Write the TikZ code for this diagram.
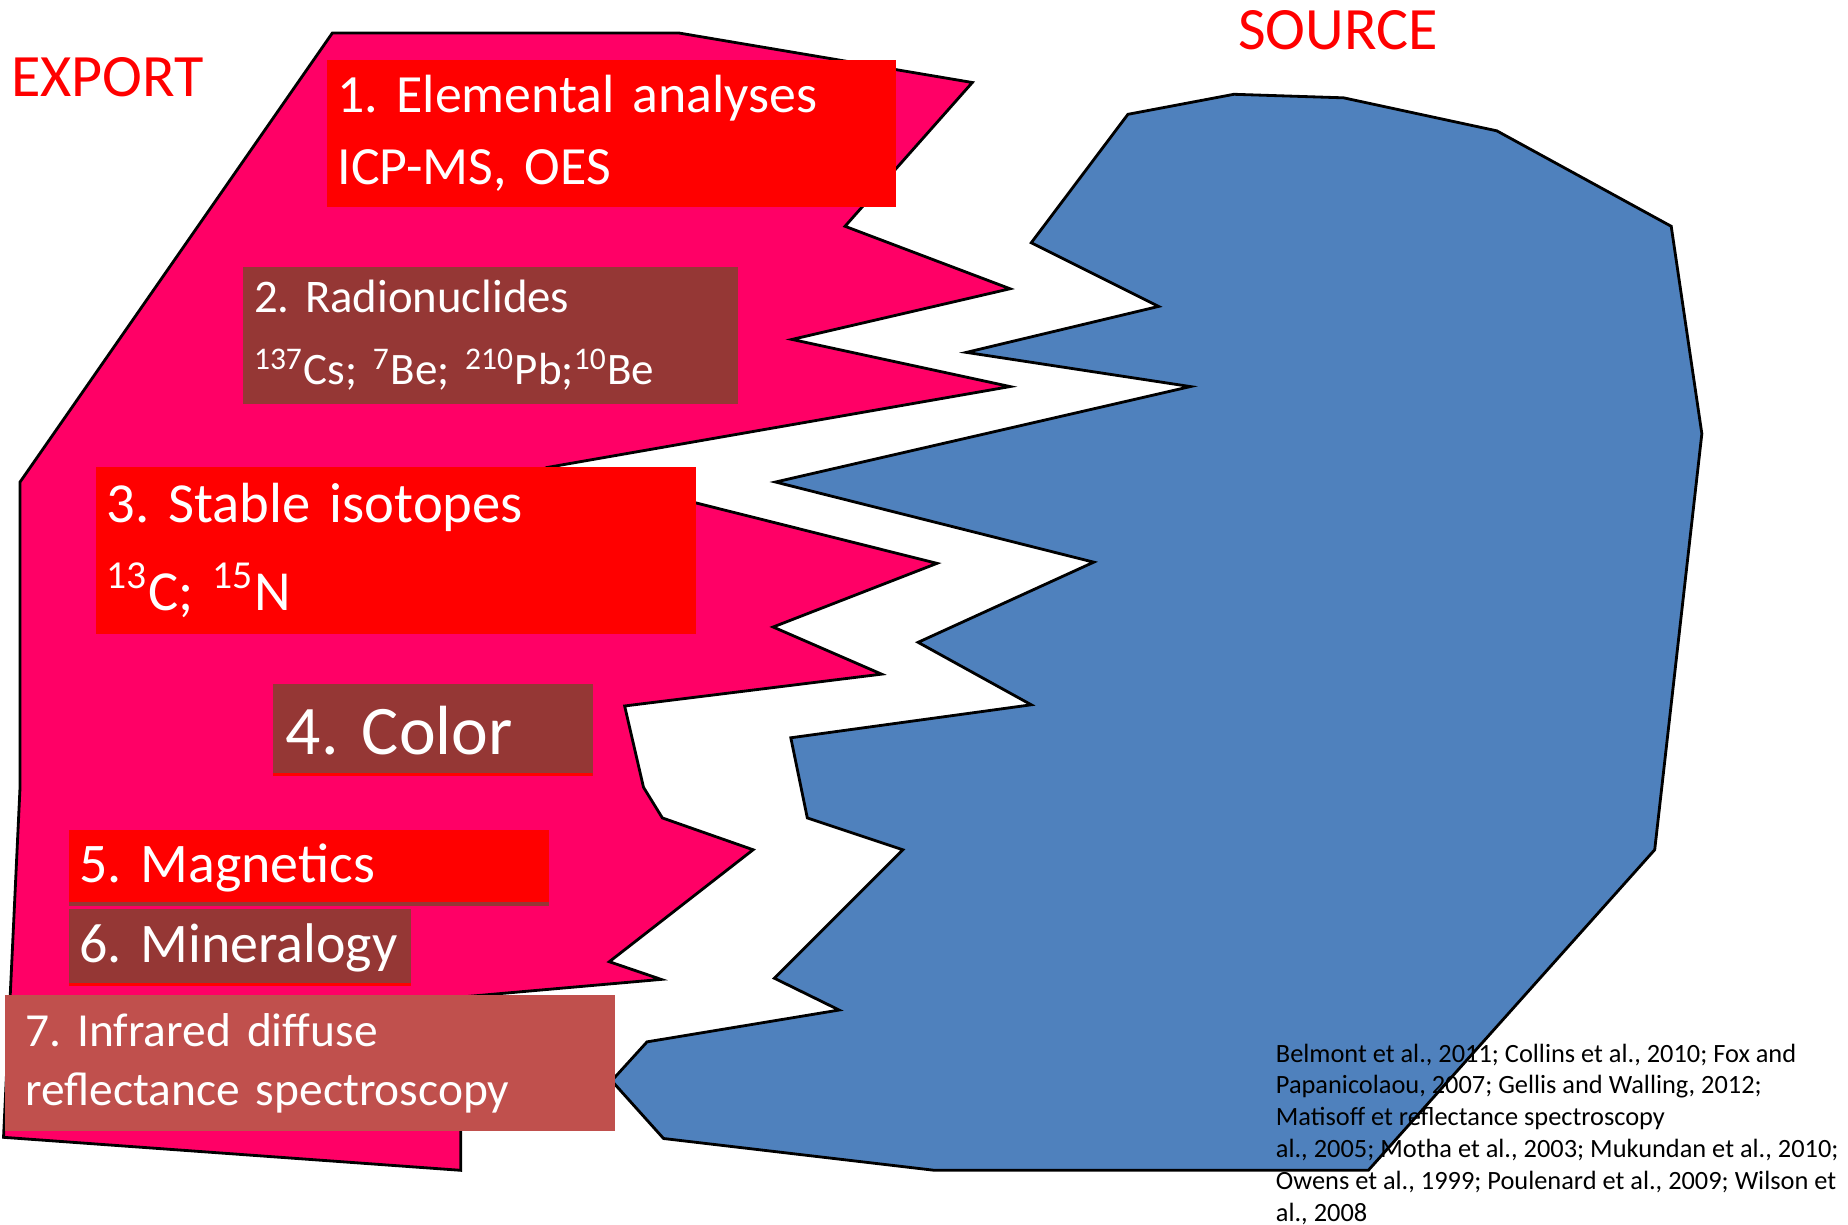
\documentclass[tikz,border=0pt]{standalone}
\usepackage{fontspec}
\setmainfont{Carlito}
\usepackage{tikz}
\frenchspacing
\hyphenpenalty=10000
\definecolor{exportpink}{RGB}{255,0,102}
\definecolor{sourceblue}{RGB}{79,129,189}
\definecolor{boxred}{RGB}{255,0,0}
\definecolor{boxbrown}{RGB}{149,55,53}
\definecolor{boxrose}{RGB}{192,80,77}
\tikzset{tbox/.style={anchor=north west, inner xsep=3pt, inner ysep=0pt, align=left, text=white}}
\tikzset{hd/.style={anchor=base west, inner sep=0pt, text=red, font=\fontsize{17.1}{20}\selectfont}}
\tikzset{underbar/.style={path picture={\fill[#1] (path picture bounding box.south west) rectangle ([yshift=1pt]path picture bounding box.south east);}}}
\tikzset{outline/.style={draw=black, line width=0.8pt}}

\begin{document}
\begin{tikzpicture}[x=0.011786cm, y=-0.011786cm]
        \useasboundingbox (0,0) rectangle (1568,1039);
        \filldraw[outline, fill=exportpink] (282,28) -- (576,28) -- (825,70) -- (717,192) -- (857,245)
          -- (672,288) -- (857,328) -- (468,396) -- (795,478) -- (656,532) -- (748,572) -- (530,599)
          -- (546,668) -- (562,694) -- (639,721) -- (517,816) -- (561,831) -- (391,846) -- (391,993)
          -- (3,965) -- (17,668) -- (17,409) -- cycle;
        \filldraw[outline, fill=sourceblue] (957,97) -- (1047,80) -- (1140,83) -- (1270,111) -- (1418,192)
          -- (1444,368) -- (1404,721) -- (1161,993) -- (793,993) -- (563,966) -- (519,917) -- (549,884)
          -- (712,857) -- (657,830) -- (766,721) -- (685,694) -- (671,626) -- (875,598) -- (779,545)
          -- (928,477) -- (658,409) -- (1010,328) -- (820,299) -- (983,260) -- (875,206) -- cycle;
        \node[hd] (export) at (9,82) {EXPORT};
        \node[hd] (source) at (1050,42) {SOURCE};
        \node[tbox, fill=boxred, text width=155.65pt, minimum height=41.92pt,
          font=\fontsize{15.3}{20.5}\selectfont] (elemental) at (277,50)
          {1. Elemental analyses\\ICP-MS, OES};
        \node[tbox, fill=boxbrown, text width=134.52pt, minimum height=38.90pt,
          font=\fontsize{13.3}{20.5}\selectfont] (radio) at (206,226)
          {2. Radionuclides\\{\fontsize{12.8}{20.5}\selectfont\textsuperscript{137}Cs; \textsuperscript{7}Be; \textsuperscript{210}Pb;\textsuperscript{10}Be}};
        \node[tbox, fill=boxred, text width=164.70pt, minimum height=47.29pt,
          font=\fontsize{16.1}{25.2}\selectfont] (stable) at (81,396)
          {3. Stable isotopes\\\textsuperscript{13}C; \textsuperscript{15}N};
        \node[tbox, fill=boxbrown, underbar=boxred, inner xsep=3.7pt, text width=83.49pt, minimum height=26.16pt,
          font=\fontsize{19.8}{24}\selectfont] (color) at (231,580) {4. Color};
        \node[tbox, fill=boxred, underbar=boxbrown, text width=130.50pt, minimum height=21.46pt,
          font=\fontsize{15.9}{19}\selectfont] (magnetics) at (58,704) {5. Magnetics};
        \node[tbox, fill=boxbrown, underbar=boxred, text width=91.26pt, minimum height=21.80pt,
          font=\fontsize{15.9}{19}\selectfont] (mineralogy) at (58,771) {6.~Mineralogy};
        \node[tbox, fill=boxrose, inner xsep=5.7pt, text width=161.99pt, minimum height=38.57pt,
          font=\fontsize{13.5}{16.8}\selectfont] (infrared) at (4,844)
          {7. Infrared diffuse\\reflectance spectroscopy};
        \node[anchor=north west, inner sep=0pt, align=left, font=\fontsize{7.5}{9.05}\selectfont] (refs) at (1082,885)
          {Belmont et al., 2011; Collins et al., 2010; Fox and\\
           Papanicolaou, 2007; Gellis and Walling, 2012;\\
           Matisoff et reflectance spectroscopy\\
           al., 2005; Motha et al., 2003; Mukundan et al., 2010;\\
           Owens et al., 1999; Poulenard et al., 2009; Wilson et\\
           al., 2008};
      \end{tikzpicture}
\end{document}
